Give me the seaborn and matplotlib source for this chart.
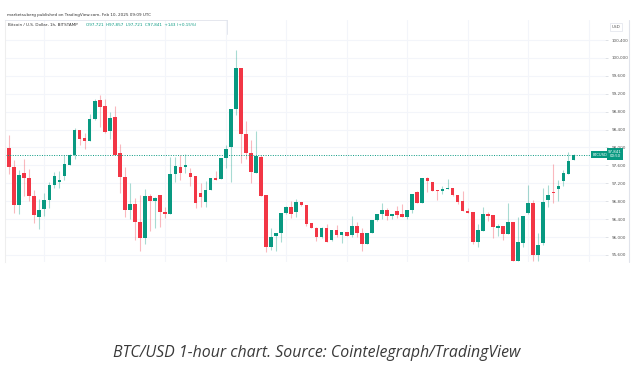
import matplotlib
matplotlib.use("Agg")
import matplotlib.pyplot as plt
import seaborn as sns
import numpy as np
import pandas as pd

# BTC/USD 1h candles
opens = [97996, 97571, 96723, 97430, 97311, 96909, 96455, 96618, 96827, 97154,
         97236, 97370, 97616, 97832, 98390, 98204, 98152, 98636, 99060, 98926,
         98360, 98688, 97869, 97348, 96611, 96738, 96343, 95986, 96924, 96805,
         96939, 96559, 96507, 97400, 97571, 97571, 97422, 97363, 96976, 96775,
         97050, 97311, 97288, 97757, 98018, 98852, 99782, 98293, 97869, 97437,
         97795, 96939, 95770, 96023, 96082, 96529, 96678, 96566, 96775, 96715,
         96313, 96209, 96008, 96202, 95934, 96157, 96053, 96105, 96038, 96246,
         96097, 95837, 96097, 96380, 96507, 96604, 96477, 96589, 96507, 96455,
         96604, 97005, 96752, 97311, 97236, 97050, 97028, 97080, 97095, 96946,
         96797, 96589, 96551, 95896, 96142, 96507, 96492, 96209, 96246, 96075,
         96343, 95472, 95859, 96529, 96767, 95599, 95859, 96819, 97005, 97065,
         97244, 97408, 97721]
highs = [98278, 97720, 97497, 97742, 97519, 97050, 96842, 96976, 97236, 97452,
         97475, 97832, 97847, 98427, 98390, 98316, 98747, 99075, 99172, 99075,
         98800, 98926, 98077, 97571, 97214, 96864, 96939, 97073, 96961, 96901,
         96939, 96678, 97795, 97795, 97832, 97847, 97549, 97363, 97199, 97251,
         97311, 97475, 97757, 98055, 98859, 100177, 99782, 98591, 98167, 98375,
         97832, 96939, 96194, 96082, 96529, 96700, 96805, 96849, 96790, 96715,
         96313, 96216, 96216, 96291, 96157, 96269, 96105, 96105, 96477, 96343,
         96194, 96097, 96380, 96514, 96752, 96656, 96514, 96700, 96730, 96604,
         96961, 97035, 97311, 97333, 97236, 97050, 97140, 97296, 97095, 96946,
         97028, 96641, 96551, 96291, 96663, 96559, 96492, 96291, 96246, 96752,
         96343, 96440, 96477, 97162, 96827, 96082, 97087, 97154, 97638, 97274,
         97497, 97891, 97857]
lows = [97400, 96529, 96514, 96916, 96812, 96306, 96179, 96477, 96656, 97102,
        97087, 97274, 97601, 97735, 98055, 97966, 98144, 98613, 98450, 98331,
        98197, 97832, 96976, 96455, 96403, 95934, 95688, 95837, 96142, 96209,
        96216, 96417, 96507, 97221, 97274, 97422, 97147, 96641, 96678, 96678,
        97050, 97274, 97288, 97549, 97236, 98725, 97661, 97735, 97214, 97437,
        96916, 95673, 95710, 95695, 95896, 96514, 96417, 96440, 96700, 96254,
        96194, 95919, 95986, 95889, 95919, 96008, 95874, 96023, 96008, 96008,
        95695, 95837, 96097, 96358, 96395, 96380, 96403, 96417, 96455, 96395,
        96529, 96752, 96752, 97013, 97035, 96827, 96961, 97080, 96916, 96730,
        96589, 96537, 95837, 95770, 96142, 96358, 95986, 96030, 95934, 96075,
        95472, 95472, 95770, 96514, 95472, 95472, 95822, 96663, 96767, 96812,
        97140, 97408, 97721]
closes = [97564, 96723, 97385, 97318, 96916, 96492, 96604, 96827, 97169, 97363,
          97274, 97631, 97832, 98390, 98189, 98152, 98636, 99038, 98911, 98345,
          98658, 97832, 97348, 96596, 96738, 96328, 95986, 96916, 96805, 96872,
          96566, 96507, 97400, 97586, 97437, 97608, 97333, 96752, 96901, 97050,
          97311, 97274, 97757, 97958, 98859, 99782, 98293, 97869, 97460, 97810,
          96916, 95770, 96008, 96082, 96529, 96678, 96507, 96775, 96715, 96298,
          96209, 96008, 96202, 95889, 96157, 96053, 96105, 96030, 96246, 96097,
          95844, 96097, 96380, 96514, 96604, 96477, 96514, 96492, 96455, 96604,
          96961, 96752, 97311, 97251, 97035, 97028, 97080, 97102, 96939, 96790,
          96589, 96537, 95896, 96157, 96514, 96477, 96216, 96246, 96075, 96343,
          95472, 95889, 96477, 96752, 95599, 95822, 96775, 96939, 96983, 97140,
          97430, 97698, 97841]

price_ticks = [95600, 96000, 96400, 96800, 97200, 97600, 98000, 98400,
               98800, 99200, 99600, 100000, 100400]
last_price = 97841

green = "#089981"
red = "#f23645"

sns.set_theme(style="white")
plt.rcParams['font.family'] = ['DejaVu Sans']

df = pd.DataFrame({"open": opens, "high": highs, "low": lows, "close": closes})
df["hour"] = np.arange(len(df))
df["color"] = np.where(df["close"] >= df["open"], green, red)
df["body_lo"] = df[["open", "close"]].min(axis=1)
df["body_h"] = (df["close"] - df["open"]).abs().clip(lower=12)

fig = plt.figure(figsize=(6.4, 3.75), dpi=100)
ax = fig.add_axes([5 / 640, 1 - 262 / 375, 600 / 640, 242 / 375])

# wicks then bodies
ax.vlines(df["hour"], df["low"], df["high"], colors=df["color"], linewidth=0.8, alpha=0.35)
ax.bar(df["hour"], df["body_h"], bottom=df["body_lo"], width=0.72,
       color=df["color"], linewidth=0)

ax.axhline(last_price, color=green, linestyle=(0, (1, 1.5)), linewidth=0.7)

ax.set_xlim(-0.8, 118.25)
ax.set_ylim(95443, 100847)
ax.set_xticks(np.arange(7, 118, 12))
ax.set_xticklabels([])
ax.set_yticks(price_ticks)
ax.set_yticklabels([f"{p:,}" for p in price_ticks])
ax.yaxis.tick_right()
ax.tick_params(axis="y", length=2, width=0.5, color="#d1d4dc", pad=2.5,
               labelsize=3, labelcolor="#555555")
ax.tick_params(axis="x", length=0)
ax.grid(True, color="#f3f5fa", linewidth=0.8)
ax.set_axisbelow(True)
sns.despine(ax=ax, top=True, right=True, left=False, bottom=True)
ax.spines["left"].set_color("#eeeeee")
ax.spines["left"].set_linewidth(0.8)

# right border of the screenshot
fig.add_artist(plt.Line2D([629 / 640, 629 / 640], [1 - 20 / 375, 1 - 262 / 375],
                          color="#e0e3eb", linewidth=0.8))
# legend box edges
fig.add_artist(plt.Line2D([5 / 640, 227 / 640], [1 - 20 / 375, 1 - 20 / 375],
                          color="#e0e3eb", linewidth=0.6))
fig.add_artist(plt.Line2D([227 / 640, 227 / 640], [1 - 20 / 375, 1 - 34 / 375],
                          color="#e0e3eb", linewidth=0.6))

# header
fig.text(7 / 640, 1 - 15 / 375, "marketsuberg published on TradingView.com, Feb 10, 2025 09:09 UTC",
         fontsize=3, color="#333333", va="center")
fig.text(8 / 640, 1 - 25.5 / 375, "Bitcoin / U.S. Dollar, 1h, BITSTAMP",
         fontsize=3, color="#333333", va="center")
fig.text(86 / 640, 1 - 25.5 / 375, "O97,721  H97,857  L97,721  C97,841  +143 (+0.15%)",
         fontsize=3, color=green, va="center")

# USD box
fig.text(616 / 640, 1 - 27 / 375, "USD", fontsize=3, color="#555555", ha="center", va="center",
         bbox=dict(boxstyle="square,pad=0.5", fc="white", ec="#e0e3eb", lw=0.5))

# last price tags
y_last = ax.transData.transform((0, last_price))[1] / 375
fig.text(600 / 640, y_last, "BTCUSD", fontsize=2.6, color="white", ha="center", va="center",
         bbox=dict(boxstyle="square,pad=0.4", fc=green, ec=green, lw=0))
fig.text(615 / 640, y_last + 0.002, "97,841\n00:50", fontsize=2.8, color="white",
         ha="center", va="center", linespacing=1.2,
         bbox=dict(boxstyle="square,pad=0.4", fc=green, ec=green, lw=0))

fig.text(0.495, 1 - 353 / 375, "BTC/USD 1-hour chart. Source: Cointelegraph/TradingView",
         fontsize=11.4, color="#3a3a3a", ha="center", va="center",
         family=["Open Sans", "DejaVu Sans"], style="italic")

fig.savefig("out.png", dpi=100, facecolor="white")
